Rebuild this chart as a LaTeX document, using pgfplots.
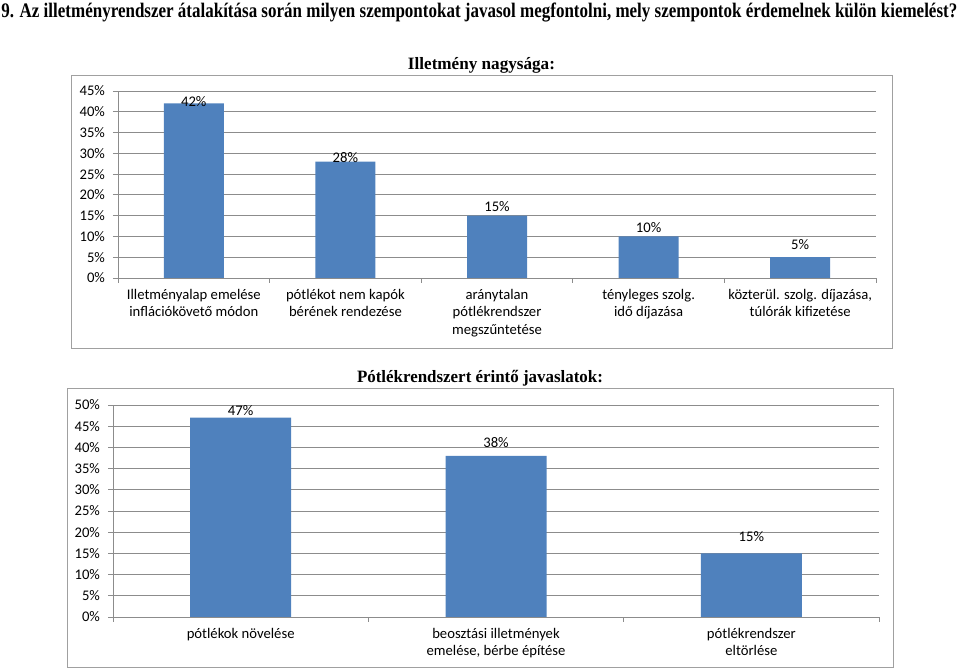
\documentclass[border=0pt]{standalone}
\usepackage{pgfplots}
\pgfplotsset{compat=1.18}
\usepackage{fontspec}
\setmainfont{Carlito}
\newfontfamily\tnr{Liberation Serif}
\definecolor{barblue}{HTML}{4F81BD}
\definecolor{gridc}{HTML}{8C8C8C}
\definecolor{boxc}{HTML}{A0A0A0}
\newcommand\lblfont{\fontsize{11}{13}\selectfont}
\pgfplotsset{exstyle/.style={
  scale only axis,
  ybar,
  axis x line*=bottom, axis y line*=left,
  axis line style={gridc,-,line width=0.6pt},
  ymajorgrids, grid style={gridc,line width=0.6pt},
  tick align=outside,
  major tick length=3.75pt,
  tick style={gridc,line width=0.6pt},
  ymin=0,
  /pgf/number format/assume math mode=true,
  yticklabel={\pgfmathprintnumber{\tick}\%},
  yticklabel style={font=\lblfont, xshift=-2.5pt},
  xticklabels={},
  extra x tick style={major tick length=0pt,
     tick label style={font=\lblfont, align=center, yshift=-5pt}},
  visualization depends on={\thisrow{off} \as \myoff},
  nodes near coords={\pgfmathprintnumber{\pgfplotspointmeta}\%},
  every node near coord/.append style={font=\lblfont, black, inner sep=0pt,
     anchor=center, yshift=\myoff*0.75pt},
}}
\begin{document}
\begin{tikzpicture}
\path[use as bounding box] (0,0) rectangle (720pt,502.5pt);
% main title
\node[anchor=base west, inner sep=0] at (0.75pt,489pt)
  {\resizebox{717pt}{\height}{\fontsize{15.5}{18}\tnr\bfseries 9. Az illetményrendszer átalakítása során milyen szempontokat javasol megfontolni, mely szempontok érdemelnek külön kiemelést?}};
% top chart
\draw[boxc, line width=0.75pt] (53.25pt,240.75pt) rectangle (669pt,445.5pt);
\node[anchor=base, inner sep=0] at (361.1pt,450pt)
  {\resizebox{110.25pt}{\height}{\fontsize{13}{15}\tnr\bfseries Illetmény nagysága:}};
\begin{axis}[exstyle,
  at={(88.5pt,294pt)}, anchor=south west,
  width=568.5pt, height=140.25pt,
  xmin=-0.5, xmax=4.5, ymax=45,
  ytick={0,5,...,45},
  xtick={-0.5,0.5,...,4.5},
  extra x ticks={0,1,2,3,4},
  extra x tick labels={{Illetményalap emelése\\inflációkövető módon},
    {pótlékot nem kapók\\bérének rendezése},
    {aránytalan\\pótlékrendszer\\megszűntetése},
    {tényleges szolg.\\idő díjazása},
    {közterül. szolg. díjazása,\\túlórák kifizetése}},
  bar width=45pt,
]
\addplot[fill=barblue, draw=none] table[x=x, y=y] {
x y  off
0 42 2
1 28 4
2 15 9
3 10 9
4 5  13
};
\end{axis}
% bottom chart
\draw[boxc, line width=0.75pt] (50.25pt,1.5pt) rectangle (669.75pt,210.75pt);
\node[anchor=base, inner sep=0] at (360pt,215.25pt)
  {\resizebox{184.5pt}{\height}{\fontsize{13}{15}\tnr\bfseries Pótlékrendszert érintő javaslatok:}};
\begin{axis}[exstyle,
  at={(84.75pt,39.75pt)}, anchor=south west,
  width=574.5pt, height=159pt,
  xmin=-0.5, xmax=2.5, ymax=50,
  ytick={0,5,...,50},
  xtick={-0.5,0.5,...,2.5},
  extra x ticks={0,1,2},
  extra x tick labels={{pótlékok növelése},
    {beosztási illetmények\\emelése, bérbe építése},
    {pótlékrendszer\\eltörlése}},
  bar width=75.75pt,
]
\addplot[fill=barblue, draw=none] table[x=x, y=y] {
x y  off
0 47 7
1 38 13
2 15 17
};
\end{axis}
\end{tikzpicture}
\end{document}
